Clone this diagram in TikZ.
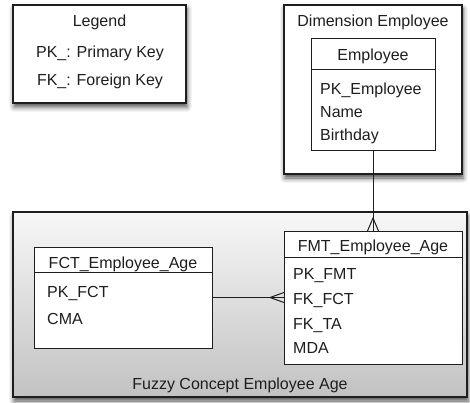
\documentclass[tikz,border=0pt]{standalone}
\usepackage{fontspec}
\setmainfont{Liberation Sans}
\usetikzlibrary{shadows.blur}
\definecolor{ink}{HTML}{1E1E1E}
\begin{document}
\begin{tikzpicture}[x=1pt,y=-1pt,
  font=\fontsize{16}{19}\selectfont,
  every node/.style={text=ink},
  frame/.style={draw=ink, line width=1.2pt, fill=white, anchor=north west,
    inner sep=0pt, outer sep=0pt,
    blur shadow={shadow xshift=1pt, shadow yshift=-4pt,
      shadow blur radius=5pt, shadow opacity=70}},
  tablebox/.style={draw=ink, line width=1pt, fill=white, anchor=north west,
    inner sep=0pt, outer sep=0pt},
  title/.style={anchor=base, inner sep=0pt},
  attr/.style={anchor=base west, inner sep=0pt},
  link/.style={draw=ink, line width=1pt}]
\useasboundingbox (0,0) rectangle (470,403);

% Legend
\node[frame, minimum width=173pt, minimum height=98pt] (legend) at (13,5) {};
\node[title] (legendtitle) at (99.5,27) {Legend};
\node[title] (legendpk) at (100,58) {PK\_: Primary Key};
\node[title] (legendfk) at (100,86) {FK\_: Foreign Key};

% Dimension Employee
\node[frame, minimum width=178pt, minimum height=169pt] (dim) at (284,5) {};
\node[title] (dimtitle) at (373,27) {Dimension Employee};
\node[tablebox, minimum width=124pt, minimum height=112pt] (emp) at (311,39) {};
\draw[link] ([yshift=-31pt]emp.north west) -- ([yshift=-31pt]emp.north east);
\node[title] (emptitle) at (373,61) {Employee};
\node[attr] (emppk) at (320,95) {PK\_Employee};
\node[attr] (empname) at (320,118) {Name};
\node[attr] (empbirth) at (320,141) {Birthday};

% Fuzzy concept
\node[frame, top color=black!3, bottom color=black!24,
  minimum width=454pt, minimum height=185pt] (fuzzy) at (13,212) {};
\node[title] (fuzzytitle) at (240,389) {Fuzzy Concept Employee Age};

\node[tablebox, minimum width=178pt, minimum height=101pt] (fct) at (34,247) {};
\draw[link] ([yshift=-25pt]fct.north west) -- ([yshift=-25pt]fct.north east);
\node[title] (fcttitle) at (123,268) {FCT\_Employee\_Age};
\node[attr] (fctpk) at (47,297) {PK\_FCT};
\node[attr] (fctcma) at (47,324) {CMA};

\node[tablebox, minimum width=178pt, minimum height=133pt] (fmt) at (284,231) {};
\draw[link] ([yshift=-26pt]fmt.north west) -- ([yshift=-26pt]fmt.north east);
\node[title] (fmttitle) at (373,251) {FMT\_Employee\_Age};
\node[attr] (fmtpk) at (293,279) {PK\_FMT};
\node[attr] (fmtfct) at (293,304) {FK\_FCT};
\node[attr] (fmtta) at (293,329) {FK\_TA};
\node[attr] (fmtmda) at (293,353) {MDA};

% Relationships (crow's foot on the many side)
\draw[link] (emp.south) -- (fmt.north);
\draw[link] ([xshift=-5.5pt]fmt.north) -- ([yshift=13pt]fmt.north) -- ([xshift=5.5pt]fmt.north);
\draw[link] (fct.east) -- (fmt.west);
\draw[link] ([yshift=5pt]fmt.west) -- ([xshift=-14pt]fmt.west) -- ([yshift=-5pt]fmt.west);
\end{tikzpicture}
\end{document}
